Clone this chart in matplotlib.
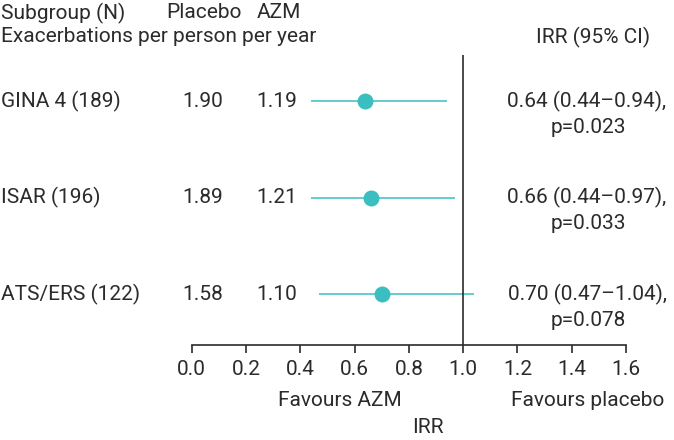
import matplotlib
matplotlib.use("Agg")
import matplotlib.pyplot as plt
import matplotlib.transforms as mtransforms

plt.rcParams['font.family'] = ['Roboto', 'DejaVu Sans']

# data
subgroups = ["GINA 4 (189)", "ISAR (196)", "ATS/ERS (122)"]
placebo = ["1.90", "1.89", "1.58"]
azm = ["1.19", "1.21", "1.10"]
irr = [0.64, 0.66, 0.70]
ci_low = [0.44, 0.44, 0.47]
ci_high = [0.94, 0.97, 1.04]
irr_text = ["0.64 (0.44\u20130.94),", "0.66 (0.44\u20130.97),", "0.70 (0.47\u20131.04),"]
p_text = ["p=0.023", "p=0.033", "p=0.078"]
xticks = [0.0, 0.2, 0.4, 0.6, 0.8, 1.0, 1.2, 1.4, 1.6]

W, H = 674, 440
teal = "#3bbec0"
txt = "#2b2b2b"
fs = 15

fig = plt.figure(figsize=(W / 100, H / 100), dpi=100)
ax = fig.add_axes([191.7 / W, 1 - 345 / H, 434.3 / W, 345 / H])
ax.set_xlim(0, 1.6)
ax.set_ylim(2.528, -1.047)

rows = list(range(len(subgroups)))
for i in rows:
    ax.plot([ci_low[i], ci_high[i]], [i, i], color=teal, lw=1.1, solid_capstyle='butt')
    ax.plot(irr[i], i, 'o', color=teal, ms=11.5, mec='none')

ax.vlines(1.0, -0.477, 2.528, color=txt, lw=1.2)

for s in ['top', 'right', 'left']:
    ax.spines[s].set_visible(False)
ax.spines['bottom'].set_color(txt)
ax.spines['bottom'].set_linewidth(1.2)
ax.set_yticks([])
ax.set_xticks(xticks)
ax.set_xticklabels([f"{v:.1f}" for v in xticks])
ax.tick_params(axis='x', length=6, width=1.2, color=txt, labelsize=fs, labelcolor=txt, pad=5)

# text columns
tr = mtransforms.blended_transform_factory(fig.transFigure, ax.transData)
for i in rows:
    fig.text(1 / W, i, subgroups[i], transform=tr, ha='left', va='center', fontsize=fs, color=txt)
    fig.text(203 / W, i, placebo[i], transform=tr, ha='center', va='center', fontsize=fs, color=txt)
    fig.text(277 / W, i, azm[i], transform=tr, ha='center', va='center', fontsize=fs, color=txt)
    fig.text(587 / W, i, irr_text[i], transform=tr, ha='center', va='center', fontsize=fs, color=txt)
    fig.text(588 / W, i + 0.27, p_text[i], transform=tr, ha='center', va='center', fontsize=fs, color=txt)

fig.text(1 / W, 1 - 13 / H, "Subgroup (N)", ha='left', va='center', fontsize=fs, color=txt)
fig.text(166 / W, 1 - 13 / H, "Placebo", ha='left', va='center', fontsize=fs, color=txt)
fig.text(257 / W, 1 - 13 / H, "AZM", ha='left', va='center', fontsize=fs, color=txt)
fig.text(1 / W, 1 - 37 / H, "Exacerbations per person per year", ha='left', va='center', fontsize=fs, color=txt)
fig.text(593 / W, 1 - 37 / H, "IRR (95% CI)", ha='center', va='center', fontsize=fs, color=txt)

fig.text(340 / W, 1 - 400 / H, "Favours AZM", ha='center', va='center', fontsize=fs, color=txt)
fig.text(588 / W, 1 - 400 / H, "Favours placebo", ha='center', va='center', fontsize=fs, color=txt)
fig.text(428 / W, 1 - 427 / H, "IRR", ha='center', va='center', fontsize=fs, color=txt)

fig.savefig("out.png", dpi=100)
